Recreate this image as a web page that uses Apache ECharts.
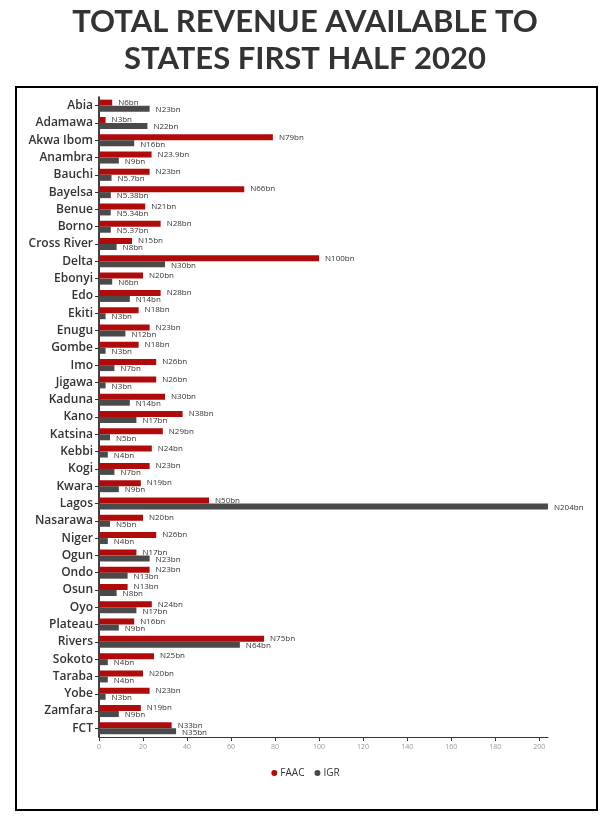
<!DOCTYPE html>
<html>
<head>
<meta charset="utf-8">
<script src="https://cdn.jsdelivr.net/npm/echarts@6/dist/echarts.min.js"></script>
<style>
html,body{margin:0;padding:0;background:#fff;}
#chart{width:611px;height:821px;}
</style>
</head>
<body>
<div id="chart"></div>
<script>
const titleLines = ["TOTAL REVENUE AVAILABLE TO","STATES FIRST HALF 2020"];
const states = ["Abia","Adamawa","Akwa Ibom","Anambra","Bauchi","Bayelsa","Benue","Borno","Cross River","Delta","Ebonyi","Edo","Ekiti","Enugu","Gombe","Imo","Jigawa","Kaduna","Kano","Katsina","Kebbi","Kogi","Kwara","Lagos","Nasarawa","Niger","Ogun","Ondo","Osun","Oyo","Plateau","Rivers","Sokoto","Taraba","Yobe","Zamfara","FCT"];
const faac = [6,3,79,23.9,23,66,21,28,15,100,20,28,18,23,18,26,26,30,38,29,24,23,19,50,20,26,17,23,13,24,16,75,25,20,23,19,33];
const igr = [23,22,16,9,5.7,5.38,5.34,5.37,8,30,6,14,3,12,3,7,3,14,17,5,4,7,9,204,5,4,23,13,8,17,9,64,4,4,3,9,35];
const xTicks = [0,20,40,60,80,100,120,140,160,180,200];

const chart = echarts.init(document.getElementById('chart'));
const font = '"Open Sans", Lato, sans-serif';
const titleFont = 'Lato, "Open Sans", sans-serif';
chart.setOption({
  animation:false,
  backgroundColor:'#fff',
  graphic:[
    {type:'rect',shape:{x:16,y:87,width:581,height:723},style:{fill:'none',stroke:'#000',lineWidth:2},silent:true},
    {type:'text',x:305,y:22,style:{text:titleLines[0],fontFamily:titleFont,fontSize:31,fontWeight:'bold',fill:'#333',textAlign:'center',textVerticalAlign:'middle'},silent:true},
    {type:'text',x:305,y:59,style:{text:titleLines[1],fontFamily:titleFont,fontSize:31,fontWeight:'bold',fill:'#333',textAlign:'center',textVerticalAlign:'middle'},silent:true}
  ],
  legend:{
    data:['FAAC','IGR'], top:763, left:'center', icon:'circle', itemWidth:6, itemHeight:6, itemGap:10,
    textStyle:{fontFamily:font,fontSize:10,color:'#333',padding:[0,0,0,-2]}
  },
  grid:{left:99,right:63,top:97,bottom:84},
  xAxis:{
    type:'value', min:0, max:204, interval:20,
    axisLine:{show:true,lineStyle:{color:'#333',width:1}},
    axisTick:{show:true,length:4,lineStyle:{color:'#333'}},
    splitLine:{show:false},
    axisLabel:{fontFamily:font,fontSize:7,color:'#999',showMaxLabel:false,margin:6,
      formatter:function(v){return xTicks.indexOf(v)>=0?String(v):'';}}
  },
  yAxis:{
    type:'category', data:states, inverse:true,
    axisLine:{show:true,lineStyle:{color:'#000',width:1.5}},
    axisTick:{show:true,length:4,alignWithLabel:true,lineStyle:{color:'#333'}},
    axisLabel:{fontFamily:font,fontSize:12,fontWeight:600,color:'#333',margin:6,interval:0}
  },
  series:[
    {name:'FAAC',type:'bar',data:faac,barWidth:6,barGap:'0%',itemStyle:{color:'#b10a0a'},
     label:{show:true,position:'right',distance:6,formatter:'N{c}bn',fontFamily:font,fontSize:8,color:'#333',offset:[0,0]}},
    {name:'IGR',type:'bar',data:igr,barWidth:6,itemStyle:{color:'#4a4a4a'},
     label:{show:true,position:'right',distance:6,formatter:'N{c}bn',fontFamily:font,fontSize:8,color:'#333',offset:[0,1]}}
  ]
});
</script>
</body>
</html>
